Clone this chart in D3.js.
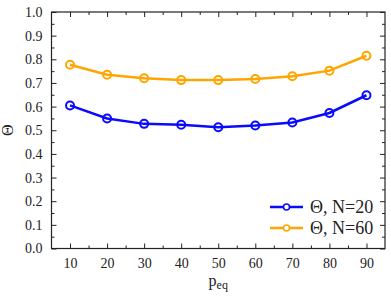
<!DOCTYPE html>
<html>
<head>
<meta charset="utf-8">
<script src="https://cdn.jsdelivr.net/npm/d3@7"></script>
<style>
  body { margin: 0; background: #fff; }
</style>
</head>
<body>
<div id="chart"></div>
<script>
// data
var peq = [10, 20, 30, 40, 50, 60, 70, 80, 90];
var thetaN20 = [0.605, 0.550, 0.527, 0.523, 0.513, 0.520, 0.533, 0.573, 0.648];
var thetaN60 = [0.777, 0.735, 0.720, 0.712, 0.712, 0.717, 0.728, 0.752, 0.815];
var seriesNames = ["Θ, N=20", "Θ, N=60"];
var seriesColors = ["#0a0aff", "#ffa500"];
var xTicks = [10, 20, 30, 40, 50, 60, 70, 80, 90];
var yTicks = [0, 0.1, 0.2, 0.3, 0.4, 0.5, 0.6, 0.7, 0.8, 0.9, 1.0];

var FONT = "'Liberation Serif', 'Times New Roman', 'DejaVu Serif', serif";
var W = 391, H = 296;
var margin = {top: 12, right: 6, bottom: 47.5, left: 51.5};
var width = W - margin.left - margin.right,
    height = H - margin.top - margin.bottom;

var svg = d3.select("#chart").append("svg")
    .attr("width", W)
    .attr("height", H)
    .attr("font-family", FONT);

var g = svg.append("g")
    .attr("transform", "translate(" + margin.left + "," + margin.top + ")");

var x = d3.scaleLinear().domain([5, 95]).range([0, width]);
var y = d3.scaleLinear().domain([0, 1]).range([height, 0]);

var xMinor = d3.range(15, 95, 10);
var yMinor = d3.range(0.05, 1, 0.1);

function styleAxis(sel) {
    sel.attr("font-family", FONT).attr("font-size", 14);
    sel.select(".domain").remove();
    sel.selectAll("line").attr("stroke", "#222").attr("stroke-width", 1);
    sel.selectAll("text").attr("fill", "#222");
}

// bottom axis, ticks pointing inward
g.append("g")
    .attr("class", "axis axis--x")
    .attr("transform", "translate(0," + height + ")")
    .call(d3.axisBottom(x).tickValues(xTicks).tickSizeInner(-5).tickPadding(10).tickFormat(d3.format("d")))
    .call(styleAxis);
g.append("g")
    .attr("transform", "translate(0," + height + ")")
    .call(d3.axisBottom(x).tickValues(xMinor).tickSizeInner(-3).tickFormat(""))
    .call(styleAxis);
// top mirror
g.append("g")
    .call(d3.axisTop(x).tickValues(xTicks).tickSizeInner(-5).tickFormat(""))
    .call(styleAxis);
g.append("g")
    .call(d3.axisTop(x).tickValues(xMinor).tickSizeInner(-3).tickFormat(""))
    .call(styleAxis);

// left axis
g.append("g")
    .attr("class", "axis axis--y")
    .call(d3.axisLeft(y).tickValues(yTicks).tickSizeInner(-5).tickPadding(9).tickFormat(d3.format(".1f")))
    .call(styleAxis);
g.append("g")
    .call(d3.axisLeft(y).tickValues(yMinor).tickSizeInner(-3).tickFormat(""))
    .call(styleAxis);
// right mirror
g.append("g")
    .attr("transform", "translate(" + width + ",0)")
    .call(d3.axisRight(y).tickValues(yTicks).tickSizeInner(-5).tickFormat(""))
    .call(styleAxis);
g.append("g")
    .attr("transform", "translate(" + width + ",0)")
    .call(d3.axisRight(y).tickValues(yMinor).tickSizeInner(-3).tickFormat(""))
    .call(styleAxis);

// frame
g.append("rect")
    .attr("width", width)
    .attr("height", height)
    .attr("fill", "none")
    .attr("stroke", "#222")
    .attr("stroke-width", 1.2);

// axis labels
svg.append("text")
    .attr("x", margin.left + x(50))
    .attr("y", 286)
    .attr("text-anchor", "middle")
    .attr("font-size", 16)
    .attr("fill", "#222")
    .text("p")
    .append("tspan")
    .attr("font-size", 12)
    .attr("dy", 3)
    .text("eq");

svg.append("text")
    .attr("transform", "translate(13," + (margin.top + y(0.5)) + ") rotate(-90)")
    .attr("text-anchor", "middle")
    .attr("font-size", 16)
    .attr("fill", "#222")
    .text("Θ");

// lines
var line = d3.line()
    .x(function(d) { return x(d[0]); })
    .y(function(d) { return y(d[1]); });

[thetaN20, thetaN60].forEach(function(vals, i) {
    var pts = peq.map(function(p, j) { return [p, vals[j]]; });
    g.append("path")
        .datum(pts)
        .attr("d", line)
        .attr("fill", "none")
        .attr("stroke", seriesColors[i])
        .attr("stroke-width", 2.5);
    g.selectAll(".pt" + i)
        .data(pts)
        .enter().append("circle")
        .attr("class", "pt" + i)
        .attr("cx", function(d) { return x(d[0]); })
        .attr("cy", function(d) { return y(d[1]); })
        .attr("r", 4)
        .attr("fill", "none")
        .attr("stroke", seriesColors[i])
        .attr("stroke-width", 2);
});

// legend
var legend = svg.append("g").attr("transform", "translate(270,207)");
seriesNames.forEach(function(name, i) {
    var row = legend.append("g").attr("transform", "translate(0," + (i * 21) + ")");
    row.append("line")
        .attr("x1", 0).attr("x2", 33)
        .attr("stroke", seriesColors[i])
        .attr("stroke-width", 2.5);
    row.append("circle")
        .attr("cx", 16.5).attr("r", 3)
        .attr("fill", "#fff")
        .attr("stroke", seriesColors[i])
        .attr("stroke-width", 1.5);
    row.append("text")
        .attr("x", 40)
        .attr("y", 6)
        .attr("font-size", 18)
        .attr("fill", "#222")
        .text(name);
});
</script>
</body>
</html>
